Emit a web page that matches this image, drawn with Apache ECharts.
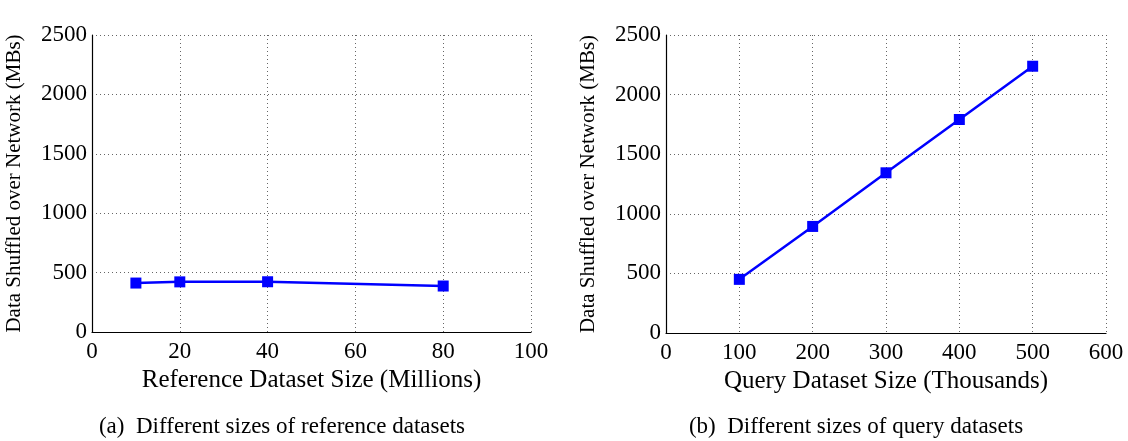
<!DOCTYPE html>
<html>
<head>
<meta charset="utf-8">
<script src="https://cdn.jsdelivr.net/npm/echarts@6/dist/echarts.min.js"></script>
<style>
  html, body { margin: 0; padding: 0; background: #fff; }
  #main { width: 1128px; height: 441px; }
</style>
</head>
<body>
<div id="main"></div>
<script>
// left: reference dataset size (millions) vs shuffled MBs
var refSizes = [10, 20, 40, 80];
var refShuffled = [412, 422, 423, 387];
// right: query dataset size (thousands) vs shuffled MBs
var querySizes = [100, 200, 300, 400, 500];
var queryShuffled = [450, 894, 1344, 1791, 2238];

var yTitle = 'Data Shuffled over Network (MBs)';
var font = '"Liberation Serif", "DejaVu Serif", serif';

function pairs(xs, ys) {
    var out = [];
    for (var i = 0; i < xs.length; i++) out.push([xs[i], ys[i]]);
    return out;
}

function plain(v) { return String(v); }

function xAxisOf(idx, max, interval, name) {
    return {
        gridIndex: idx, type: 'value', min: 0, max: max, interval: interval,
        name: name, nameLocation: 'middle', nameGap: 32,
        nameTextStyle: { fontFamily: font, fontSize: 25, color: '#000' },
        axisLine: { show: true, onZero: false, lineStyle: { color: '#000', width: 1.2 } },
        axisTick: { show: false },
        axisLabel: { fontFamily: font, fontSize: 23, color: '#000', margin: 8, formatter: plain },
        splitLine: { show: true, lineStyle: { color: '#666', type: [1, 3], width: 1 } }
    };
}

function yAxisOf(idx) {
    return {
        gridIndex: idx, type: 'value', min: 0, max: 2500, interval: 500,
        name: yTitle, nameLocation: 'middle', nameGap: 67,
        nameTextStyle: { fontFamily: font, fontSize: 21, color: '#000' },
        axisLine: { show: true, lineStyle: { color: '#000', width: 1.2 } },
        axisTick: { show: false },
        axisLabel: { fontFamily: font, fontSize: 23, color: '#000', margin: 5, formatter: plain },
        splitLine: { show: true, lineStyle: { color: '#666', type: [1, 3], width: 1 } }
    };
}

function seriesOf(idx, data) {
    return {
        type: 'line', xAxisIndex: idx, yAxisIndex: idx, data: data,
        symbol: 'rect', symbolSize: 11,
        lineStyle: { color: '#0000ff', width: 2.5 },
        itemStyle: { color: '#0000ff' },
        silent: true, animation: false
    };
}

var myChart = echarts.init(document.getElementById('main'));
myChart.setOption({
    backgroundColor: '#fff',
    animation: false,
    grid: [
        { left: 92, top: 35, width: 439, height: 297 },
        { left: 666, top: 35, width: 440, height: 298 }
    ],
    xAxis: [
        xAxisOf(0, 100, 20, 'Reference Dataset Size (Millions)'),
        xAxisOf(1, 600, 100, 'Query Dataset Size (Thousands)')
    ],
    yAxis: [yAxisOf(0), yAxisOf(1)],
    series: [
        seriesOf(0, pairs(refSizes, refShuffled)),
        seriesOf(1, pairs(querySizes, queryShuffled))
    ],
    graphic: [
        { type: 'text', x: 282, y: 427, style: { text: '(a)  Different sizes of reference datasets', fontFamily: font, fontSize: 23, fill: '#000', align: 'center', verticalAlign: 'middle' } },
        { type: 'text', x: 856, y: 427, style: { text: '(b)  Different sizes of query datasets', fontFamily: font, fontSize: 23, fill: '#000', align: 'center', verticalAlign: 'middle' } }
    ]
});
</script>
</body>
</html>
